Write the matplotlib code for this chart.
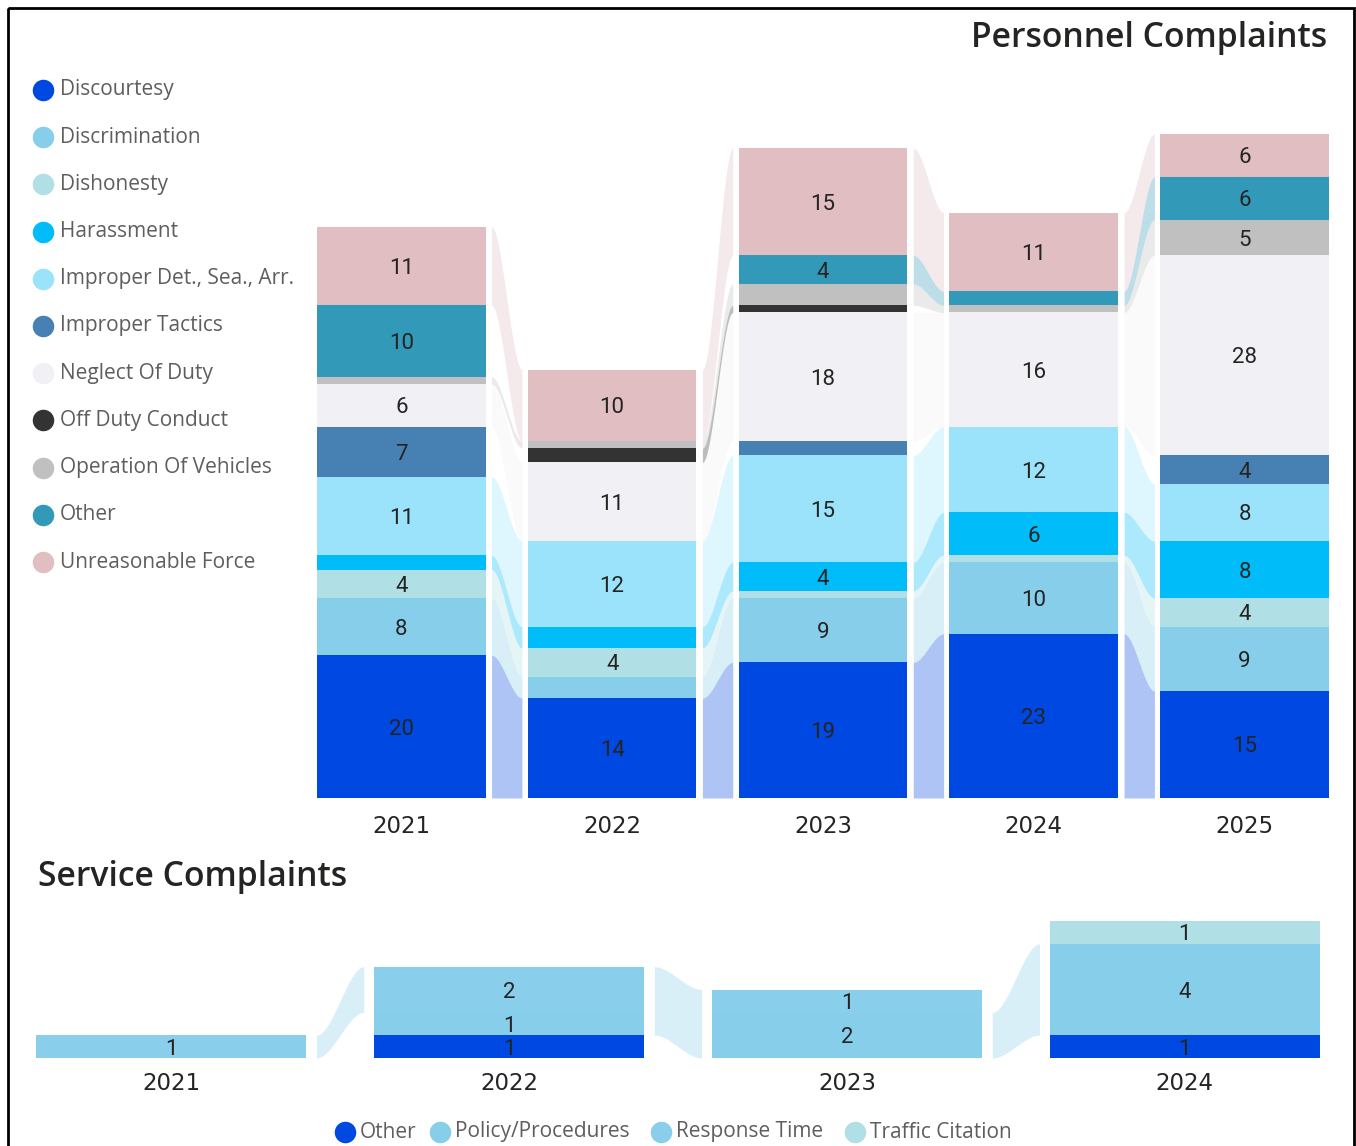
import numpy as np
import matplotlib
matplotlib.use("Agg")
import matplotlib.pyplot as plt
from matplotlib.patches import Rectangle

# ---------------- data ----------------
years = ["2021", "2022", "2023", "2024", "2025"]
personnel_categories = ["Discourtesy", "Discrimination", "Dishonesty", "Harassment",
                        "Improper Det., Sea., Arr.", "Improper Tactics", "Neglect Of Duty",
                        "Off Duty Conduct", "Operation Of Vehicles", "Other", "Unreasonable Force"]
discourtesy = [20, 14, 19, 23, 15]
discrimination = [8, 3, 9, 10, 9]
dishonesty = [4, 4, 1, 1, 4]
harassment = [2, 3, 4, 6, 8]
improper_det = [11, 12, 15, 12, 8]
improper_tactics = [7, 0, 2, 0, 4]
neglect_of_duty = [6, 11, 18, 16, 28]
off_duty_conduct = [0, 2, 1, 0, 0]
operation_of_vehicles = [1, 1, 3, 1, 5]
other_personnel = [10, 0, 4, 2, 6]
unreasonable_force = [11, 10, 15, 11, 6]
personnel_colors = ["#0048E2", "#87CEEB", "#B0E0E6", "#00BCF9", "#9AE3FA", "#4780B3",
                    "#F0F0F5", "#333333", "#C0C0C0", "#3399B8", "#E0BEC1"]

service_years = ["2021", "2022", "2023", "2024"]
service_categories = ["Other", "Policy/Procedures", "Response Time", "Traffic Citation"]
service_other = [0, 1, 0, 1]
service_policy = [0, 1, 2, 4]
service_response = [1, 2, 1, 0]
service_traffic = [0, 0, 0, 1]
service_colors = ["#0048E2", "#87CEEB", "#89CEEA", "#B0E0E6"]

# ---------------- styling ----------------
W, H = 1356, 1146
FONT = ["Roboto", "DejaVu Sans"]
WIDE = ["Open Sans", "DejaVu Sans"]
plt.rcParams["font.family"] = FONT
TXT = "#252423"
LEG = "#605E5C"

fig = plt.figure(figsize=(W / 100, H / 100), dpi=100)
fig.patch.set_facecolor("white")

# overlay axes in pixel coordinates for layout items (titles, legends, frame)
ov = fig.add_axes([0, 0, 1, 1], zorder=0)
ov.set_xlim(0, W)
ov.set_ylim(H, 0)
ov.axis("off")
ov.patch.set_alpha(0)


def ribbon_chart(ax, series, labels, colors, width=0.8, margin=0.03, min_label=1, fs=16):
    data = np.array(series, dtype=float)
    n = data.shape[1]
    x = np.arange(n)
    cum = np.cumsum(data, axis=0)
    bottoms = np.vstack([np.zeros(n), cum[:-1]])
    tops = bottoms + data
    t = np.linspace(0, 1, 80)
    s = t * t * (3 - 2 * t)
    for k in range(data.shape[0]):
        for i in range(n - 1):
            if data[k, i] > 0 and data[k, i + 1] > 0:
                xa = x[i] + width / 2 + margin
                xb = x[i + 1] - width / 2 - margin
                xs = xa + (xb - xa) * t
                lo = bottoms[k, i] + (bottoms[k, i + 1] - bottoms[k, i]) * s
                hi = tops[k, i] + (tops[k, i + 1] - tops[k, i]) * s
                ax.fill_between(xs, lo, hi, color=colors[k], alpha=0.32, lw=0, zorder=1)
    for k in range(data.shape[0]):
        ax.bar(x, data[k], width, bottom=bottoms[k], color=colors[k], lw=0, zorder=2)
        for i in range(n):
            if data[k, i] >= min_label:
                ax.text(x[i], bottoms[k, i] + data[k, i] / 2, f"{int(data[k, i])}",
                        ha="center", va="center_baseline", fontsize=fs, color=TXT, zorder=3)
    ax.set_xticks(x)
    ax.set_xticklabels(labels, family=["DejaVu Sans"], fontsize=16.5, color=TXT)
    ax.tick_params(axis="x", length=0)
    ax.set_yticks([])
    for sp in ax.spines.values():
        sp.set_visible(False)
    ax.set_xlim(-width / 2, n - 1 + width / 2)
    ax.patch.set_alpha(0)


# ---------------- Personnel chart ----------------
px_per_unit = 7.14
top_left, top_right, top_bottom, top_top = 317, 1329, 798, 128
ax1 = fig.add_axes([top_left / W, (H - top_bottom) / H, (top_right - top_left) / W,
                    (top_bottom - top_top) / H], zorder=2)
ribbon_chart(ax1,
             [discourtesy, discrimination, dishonesty, harassment, improper_det,
              improper_tactics, neglect_of_duty, off_duty_conduct, operation_of_vehicles,
              other_personnel, unreasonable_force],
             years, personnel_colors, width=0.8, margin=0.028, min_label=4, fs=16)
ax1.set_ylim(0, (top_bottom - top_top) / px_per_unit)
ax1.tick_params(axis="x", pad=12)

ov.text(1327, 38, "Personnel Complaints", ha="right", va="center", fontsize=24.3,
        fontweight="semibold", color=TXT, family=WIDE)

# personnel legend
for i, (name, col) in enumerate(zip(personnel_categories, personnel_colors)):
    yy = 90 + 47.2 * i
    ov.scatter([43], [yy], s=240, color=col, lw=0, zorder=3)
    ov.text(60, yy, name, ha="left", va="center", fontsize=15, color=LEG, family=WIDE)

# ---------------- Service chart ----------------
svc_px = 22.83
bot_left, bot_right, bot_bottom, bot_top = 36, 1320, 1058, 912
ax2 = fig.add_axes([bot_left / W, (H - bot_bottom) / H, (bot_right - bot_left) / W,
                    (bot_bottom - bot_top) / H], zorder=2)
ribbon_chart(ax2, [service_other, service_policy, service_response, service_traffic],
             service_years, service_colors, width=0.8, margin=0.03, min_label=1, fs=16)
ax2.set_ylim(0, (bot_bottom - bot_top) / svc_px)
ax2.tick_params(axis="x", pad=10)

ov.text(38, 877, "Service Complaints", ha="left", va="center", fontsize=24.3,
        fontweight="semibold", color=TXT, family=WIDE)

# service legend
leg_x = [345, 440, 661, 855]
for name, col, lx in zip(service_categories, service_colors, leg_x):
    ov.scatter([lx], [1132], s=240, color=col, lw=0, zorder=3)
    ov.text(lx + 15, 1132, name, ha="left", va="center", fontsize=15, color=LEG, family=WIDE)

# frame
ov.add_patch(Rectangle((8, 8), 1346, 1160, fill=False, ec="black", lw=2, zorder=5))

fig.savefig("out.png", dpi=100, facecolor="white")
